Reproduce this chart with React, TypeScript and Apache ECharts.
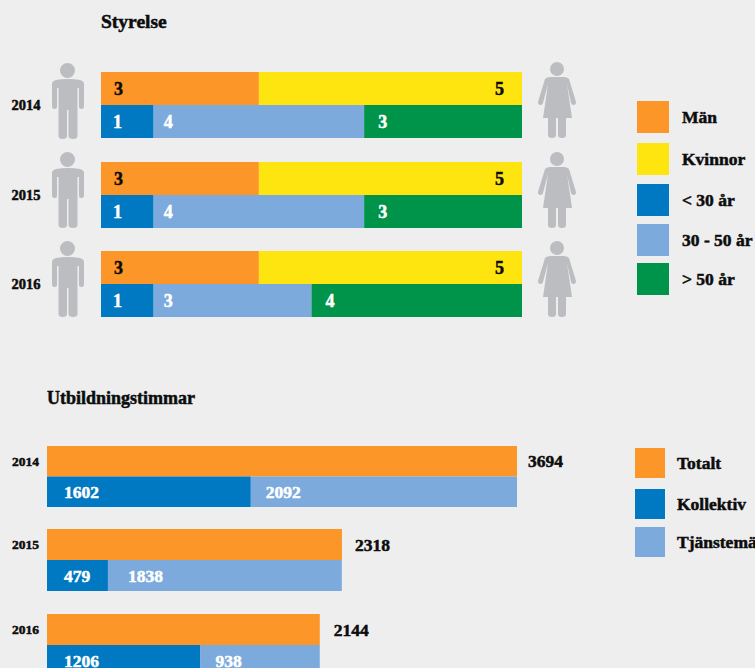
import React, { useEffect, useRef } from "react";
import * as echarts from "echarts";

const years = ["2014", "2015", "2016"];
const men = [3, 3, 3];
const women = [5, 5, 5];
const under30 = [1, 1, 1];
const mid30to50 = [4, 4, 3];
const over50 = [3, 3, 4];
const total = [3694, 2318, 2144];
const kollektiv = [1602, 479, 1206];
const tjansteman = [2092, 1838, 938];

const boardLegend = ["Män", "Kvinnor", "< 30 år", "30 - 50 år", "> 50 år"];
const hoursLegend = ["Totalt", "Kollektiv", "Tjänstemän"];

const FONT = "'Liberation Serif', 'DejaVu Serif', serif";
const BG = "#eeeeee";
const INK = "#0c0c0c";
const GREY = "#bcbdc0";
const COLORS: Record<string, string> = {
  "Män": "#fc9628",
  Kvinnor: "#ffe510",
  "< 30 år": "#0079c2",
  "30 - 50 år": "#7caadc",
  "> 50 år": "#00944a",
  Totalt: "#fc9628",
  Kollektiv: "#0079c2",
  "Tjänstemän": "#7caadc",
};

const MAN =
  "M23 7.5A7.5 7.5 0 1 1 8 7.5A7.5 7.5 0 1 1 23 7.5Z" +
  "M0 21Q0 18 4 17Q9 16 16 16Q23 16 28 17Q32 18 32 21L32 44Q32 46 29.5 46Q27 46 27 44L27 25L25.5 25L25.5 73Q25.5 76 21 76Q16.5 76 16.5 73L16.5 47L15 47L15 73Q15 76 10.8 76Q6.5 76 6.5 73L6.5 25L5 25L5 44Q5 46 2.5 46Q0 46 0 44Z";
const WOMAN =
  "M26 7A7 7 0 1 1 12 7A7 7 0 1 1 26 7Z" +
  "M7 17Q8 15.5 12 15L26 15Q30 15.5 31 17L38 40Q38 43 35.5 43Q33.5 43 33 41L29 22L34 56L28 56L28 73Q28 76 24 76Q20 76 20 73L20 56L18 56L18 73Q18 76 14 76Q10 76 10 73L10 56L5 56L10 22L5 41Q4.5 43 2.5 43Q0 43 0 40Z";
echarts.graphic.registerShape("man", echarts.graphic.extendPath(MAN as any, {}) as any);
echarts.graphic.registerShape("woman", echarts.graphic.extendPath(WOMAN as any, {}) as any);

const heavy = (color: string, fontSize: number) => ({
  color,
  fontFamily: FONT,
  fontWeight: "bold",
  fontSize,
  textBorderColor: color,
  textBorderWidth: 0.5,
});

const barLabel = (color: string, size: number, position: string, distance: number) => ({
  show: true,
  ...heavy(color, size),
  position,
  distance,
});

function buildOption() {
  const grid: any[] = [];
  const xAxis: any[] = [];
  const yAxis: any[] = [];
  const series: any[] = [];

  // The year label sits either beside the middle of the panel (board) or beside its first row (hours).
  const addPanel = (top: number, h: number, left: number, width: number, max: number, year: string, gap: number, yearSize: number, onFirstRow: boolean) => {
    const i = grid.length;
    grid.push({ left, top, width, height: h, containLabel: false, outerBoundsMode: "none" });
    xAxis.push({ type: "value", gridIndex: i, min: 0, max, show: false });
    yAxis.push({
      type: "category",
      gridIndex: i,
      data: onFirstRow ? [year, ""] : ["", " "],
      inverse: true,
      axisLine: { show: false },
      axisTick: { show: false },
      axisLabel: { show: onFirstRow, margin: gap, ...heavy(INK, yearSize) },
      splitLine: { show: false },
      name: onFirstRow ? "" : year,
      nameLocation: "middle",
      nameRotate: 0,
      nameGap: gap,
      nameTextStyle: { ...heavy(INK, yearSize), align: "center", verticalAlign: "middle" },
    });
    return i;
  };
  const addBar = (i: number, name: string, row: number, value: number, label: any) => {
    series.push({
      type: "bar",
      name,
      xAxisIndex: i,
      yAxisIndex: i,
      stack: "s" + i,
      barWidth: "100%",
      itemStyle: { color: COLORS[name] },
      label,
      data: row === 0 ? [value, null] : [null, value],
    });
  };

  const boardTops = [72, 162, 251];
  years.forEach((y, k) => {
    const i = addPanel(boardTops[k], 66, 101, 421, 8, y, 75, 14.5, false);
    addBar(i, "Män", 0, men[k], barLabel(INK, 18, "insideLeft", 13));
    addBar(i, "Kvinnor", 0, women[k], barLabel(INK, 18, "insideRight", 18));
    addBar(i, "< 30 år", 1, under30[k], barLabel("#fff", 18, "insideLeft", 12));
    addBar(i, "30 - 50 år", 1, mid30to50[k], barLabel("#fff", 18, "insideLeft", 10));
    addBar(i, "> 50 år", 1, over50[k], barLabel("#fff", 18, "insideLeft", 14));
  });

  const hourTops = [446, 529, 614];
  const hourHeights = [61, 62, 62];
  const totalDist = [11, 13, 14];
  const kolDist = [17, 17, 17];
  const tjDist = [15, 20, 15];
  years.forEach((y, k) => {
    const i = addPanel(hourTops[k], hourHeights[k], 47, 470, 3694, y, 8, 13.5, true);
    addBar(i, "Totalt", 0, total[k], barLabel(INK, 17.5, "right", totalDist[k]));
    addBar(i, "Kollektiv", 1, kollektiv[k], barLabel("#fff", 17.5, "insideLeft", kolDist[k]));
    addBar(i, "Tjänstemän", 1, tjansteman[k], barLabel("#fff", 17.5, "insideLeft", tjDist[k]));
  });

  const legendOf = (name: string, left: number, top: number, size: number, gap: number, padTop: number) => ({
    show: true,
    data: [name],
    left,
    top,
    orient: "vertical",
    padding: 0,
    itemWidth: size,
    itemHeight: size,
    itemGap: 0,
    icon: "rect",
    selectedMode: false,
    textStyle: { ...heavy(INK, 17.5), padding: [padTop, 0, 0, gap] },
  });
  const boardLegendTops = [101, 143, 184, 224, 263];
  const boardTextPad = [7, 5, 5, 5, 7];
  const hoursLegendTops = [448, 489, 527];
  const hoursTextPad = [7, 5, 3];
  const legend = [
    ...boardLegend.map((n, k) => legendOf(n, 637, boardLegendTops[k], 32, 8, boardTextPad[k])),
    ...hoursLegend.map((n, k) => legendOf(n, 635, hoursLegendTops[k], 30, 7, hoursTextPad[k])),
  ];

  const manTops = [63, 152, 241];
  const womanTops = [62, 152, 241];
  const graphic = [
    ...manTops.map((t) => ({ type: "man", x: 52, y: t, style: { fill: GREY }, silent: true })),
    ...womanTops.map((t) => ({ type: "woman", x: 538, y: t, style: { fill: GREY }, silent: true })),
  ];

  const titleOf = (text: string, left: number, top: number, fontSize: number) => ({
    text,
    left,
    top,
    padding: 0,
    textStyle: heavy(INK, fontSize),
  });

  return {
    animation: false,
    backgroundColor: BG,
    title: [titleOf("Styrelse", 101, 11, 19.5), titleOf("Utbildningstimmar", 47, 389, 18)],
    legend,
    grid,
    xAxis,
    yAxis,
    series,
    graphic,
    tooltip: { show: false },
  };
}

export default function App() {
  const ref = useRef<HTMLDivElement>(null);
  useEffect(() => {
    document.body.style.margin = "0";
    document.body.style.background = BG;
    const chart = echarts.init(ref.current!, undefined, { renderer: "svg" });
    chart.setOption(buildOption() as any);
    return () => chart.dispose();
  }, []);
  return <div ref={ref} style={{ width: 755, height: 668, overflow: "hidden" }} />;
}
